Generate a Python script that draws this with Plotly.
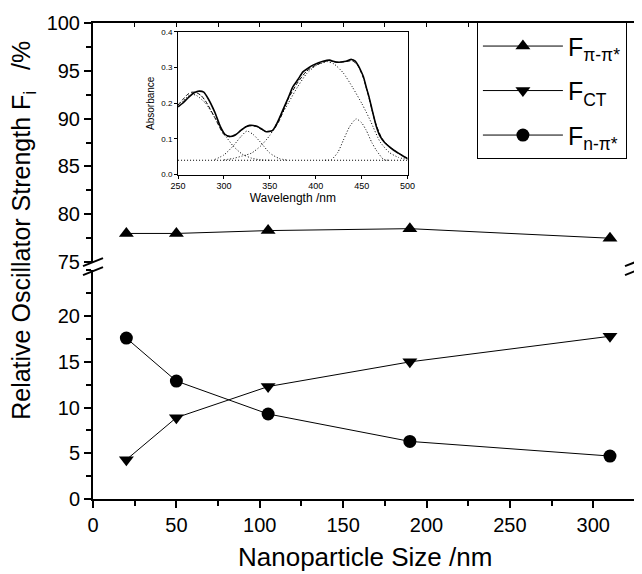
import plotly.graph_objects as go

# ---- main data ----
size_nm = [20, 50, 105, 190, 310]
f_pipi = [78.0, 78.0, 78.3, 78.5, 77.5]
f_ct = [4.3, 8.9, 12.3, 15.0, 17.8]
f_npi = [17.6, 12.9, 9.3, 6.3, 4.7]

# ---- inset data (absorbance spectrum) ----
wl_exp = [250, 255, 262, 268, 273, 278, 283, 290, 296, 301, 306, 312, 318, 324, 328, 335, 341, 346, 353, 358,
          364, 370, 375, 381, 386, 392, 397, 403, 408, 415, 419, 423, 428, 433, 439, 443, 446, 449, 452, 455,
          458, 462, 466, 470, 475, 480, 485, 490, 495, 500]
abs_exp = [0.190, 0.200, 0.218, 0.230, 0.234, 0.231, 0.212, 0.175, 0.135, 0.113, 0.107, 0.110, 0.123, 0.134, 0.138,
           0.136, 0.128, 0.120, 0.124, 0.145, 0.180, 0.215, 0.246, 0.268, 0.288, 0.299, 0.307, 0.314, 0.318, 0.321,
           0.318, 0.315, 0.316, 0.318, 0.323, 0.318, 0.307, 0.292, 0.274, 0.245, 0.218, 0.175, 0.135, 0.108, 0.090,
           0.078, 0.068, 0.060, 0.052, 0.045]
wl_fit = [250, 255, 260, 265, 270, 275, 280, 290, 300, 306, 315, 325, 335, 345, 353, 360, 370, 380, 390, 400,
          410, 415, 420, 430, 440, 446, 452, 458, 465, 472, 480, 490, 500]
abs_fit = [0.195, 0.210, 0.224, 0.231, 0.230, 0.222, 0.206, 0.160, 0.112, 0.106, 0.116, 0.136, 0.135, 0.121, 0.123,
           0.150, 0.212, 0.257, 0.290, 0.307, 0.317, 0.320, 0.316, 0.316, 0.319, 0.305, 0.270, 0.215, 0.145, 0.102,
           0.078, 0.060, 0.045]
wl_g1 = [250, 255, 260, 265, 270, 280, 290, 300, 310, 320, 330, 340, 350]
abs_g1 = [0.190, 0.205, 0.218, 0.225, 0.222, 0.200, 0.160, 0.115, 0.080, 0.057, 0.046, 0.041, 0.040]
wl_g2 = [290, 300, 310, 318, 325, 332, 340, 350, 360, 370]
abs_g2 = [0.042, 0.055, 0.080, 0.105, 0.122, 0.112, 0.090, 0.060, 0.045, 0.040]
wl_g3 = [300, 310, 320, 330, 340, 350, 360, 370, 380, 390, 400, 412, 420, 430, 440, 450, 455, 460, 470, 480, 490, 500]
abs_g3 = [0.041, 0.045, 0.052, 0.060, 0.080, 0.110, 0.155, 0.200, 0.245, 0.283, 0.305, 0.317, 0.310, 0.285, 0.245,
          0.200, 0.175, 0.148, 0.092, 0.062, 0.048, 0.042]
wl_g4 = [410, 417, 424, 430, 437, 444, 450, 455, 461, 466, 474, 480]
abs_g4 = [0.040, 0.042, 0.062, 0.096, 0.135, 0.156, 0.145, 0.124, 0.090, 0.068, 0.042, 0.040]
wl_base = [250, 500]
abs_base = [0.04, 0.04]

# ---- layout geometry (reference pixels; page body has an 8px margin) ----
OFF = 8
W, H = 642, 574
REF_LEFT, REF_RIGHT, REF_TOP, REF_BOT = 93.3, 635, 22.7, 499
L = REF_LEFT - OFF
T = REF_TOP - OFF
R = W - (REF_RIGHT - OFF)
B = H - (REF_BOT - OFF)
PW, PH = W - L - R, H - T - B


def px(xr):
    return (xr - REF_LEFT) / PW


def py(yr):
    return (REF_BOT - yr) / PH


bot_dom = [0, py(270.3)]
top_dom = [py(262), 1]

FONT = "Liberation Sans, Arial, Helvetica, sans-serif"

fig = go.Figure()

line_kw = dict(color="black", width=1)
fig.add_trace(go.Scatter(x=size_nm, y=f_pipi, mode="lines+markers", name="F<sub>π-π*</sub>", legendgroup="a",
                         line=line_kw, marker=dict(symbol="triangle-up", size=13, color="black"),
                         xaxis="x2", yaxis="y2"))
fig.add_trace(go.Scatter(x=size_nm, y=f_ct, mode="lines+markers", name="F<sub>CT</sub>", legendgroup="b",
                         line=line_kw, marker=dict(symbol="triangle-down", size=13, color="black"),
                         xaxis="x", yaxis="y"))
fig.add_trace(go.Scatter(x=size_nm, y=f_npi, mode="lines+markers", name="F<sub>n-π*</sub>", legendgroup="c",
                         line=line_kw, marker=dict(symbol="circle", size=13, color="black"),
                         xaxis="x", yaxis="y"))

# inset traces
for wl, ab, dash, w in [(wl_base, abs_base, "1px,2px", 1), (wl_g1, abs_g1, "1px,2px", 1),
                        (wl_g2, abs_g2, "1px,2px", 1), (wl_g3, abs_g3, "1px,2px", 1),
                        (wl_g4, abs_g4, "1px,2px", 1), (wl_fit, abs_fit, "4px,2px", 1),
                        (wl_exp, abs_exp, "solid", 1.6)]:
    fig.add_trace(go.Scatter(x=wl, y=ab, mode="lines", line=dict(color="black", width=w, dash=dash,
                                                                 shape="spline", smoothing=0.6),
                             showlegend=False, xaxis="x3", yaxis="y3", hoverinfo="skip"))

axis_common = dict(showline=True, linecolor="black", linewidth=2, showgrid=False, zeroline=False,
                   ticks="outside", ticklen=7, tickwidth=1.5, tickcolor="black", automargin=False,
                   tickfont=dict(size=20, color="black", family=FONT))
minor_kw = dict(ticks="outside", ticklen=5, tickcolor="black", tickwidth=1.5)
right_kw = dict(showline=True, linecolor="black", linewidth=2, showgrid=False, zeroline=False,
                ticks="inside", ticklen=4, tickcolor="black", showticklabels=False, automargin=False)

fig.update_layout(
    width=W, height=H,
    margin=dict(l=L, r=R, t=T, b=B, autoexpand=False),
    paper_bgcolor="white", plot_bgcolor="white",
    font=dict(family=FONT, color="black"),
    xaxis=dict(**axis_common, domain=[0, 1], range=[0, 325], anchor="y",
               tickvals=[0, 50, 100, 150, 200, 250, 300], minor=dict(dtick=25, **minor_kw)),
    yaxis=dict(**axis_common, domain=bot_dom, range=[0, 25], anchor="x",
               tickvals=[0, 5, 10, 15, 20], minor=dict(dtick=2.5, **minor_kw)),
    xaxis2=dict(**right_kw, domain=[0, 1], range=[0, 325], anchor="y2", side="top", dtick=25),
    yaxis2=dict(**axis_common, domain=top_dom, range=[75, 100], anchor="x2",
                tickvals=[75, 80, 85, 90, 95, 100], minor=dict(dtick=2.5, **minor_kw)),
    yaxis4=dict(**right_kw, overlaying="y", side="right", range=[0, 25], dtick=2.5, anchor="x"),
    yaxis5=dict(**right_kw, overlaying="y2", side="right", range=[75, 100], dtick=2.5, anchor="x2"),
    xaxis3=dict(domain=[px(178.3), px(407.7)], range=[250, 500], anchor="y3", automargin=False,
                showline=True, mirror=True, linecolor="black", linewidth=1.2, showgrid=False, zeroline=False,
                ticks="outside", ticklen=3, tickcolor="black", tickvals=[250, 300, 350, 400, 450, 500],
                tickfont=dict(size=9, color="black", family=FONT),
                title=dict(text="Wavelength /nm", font=dict(size=12, family=FONT), standoff=3)),
    yaxis3=dict(domain=[py(174.3), py(31.7)], range=[0, 0.4], anchor="x3", automargin=False,
                showline=True, mirror=True, linecolor="black", linewidth=1.2, showgrid=False, zeroline=False,
                ticks="outside", ticklen=3, tickcolor="black", tickvals=[0, 0.1, 0.2, 0.3, 0.4],
                tickformat=".1f", tickfont=dict(size=8, color="black", family=FONT),
                title=dict(text="Absorbance", font=dict(size=10, family=FONT), standoff=4)),
    legend=dict(x=px(477), y=py(22), xanchor="left", yanchor="top", bgcolor="white",
                bordercolor="black", borderwidth=1, font=dict(size=25, family=FONT, color="black"),
                itemwidth=80, tracegroupgap=9),
    showlegend=True,
)

# axis titles
fig.add_annotation(text="Relative Oscillator Strength F<sub>i</sub>&nbsp;&nbsp;&nbsp;/%", textangle=-90,
                   xref="paper", yref="paper", x=px(24), y=py(230), showarrow=False, borderpad=0,
                   font=dict(size=25, family=FONT, color="black"), xanchor="center", yanchor="middle")
fig.add_annotation(text="Nanoparticle Size /nm", xref="paper", yref="paper", x=px(365), y=py(557),
                   showarrow=False, font=dict(size=26, family=FONT, color="black"),
                   xanchor="center", yanchor="middle")

# axis break marks
for xc in (REF_LEFT, REF_RIGHT):
    for yc in (262, 271):
        fig.add_shape(type="line", xref="paper", yref="paper",
                      x0=px(xc - 10), y0=py(yc + 4), x1=px(xc + 10), y1=py(yc - 4),
                      line=dict(color="black", width=2))

fig.write_html("out.html")
